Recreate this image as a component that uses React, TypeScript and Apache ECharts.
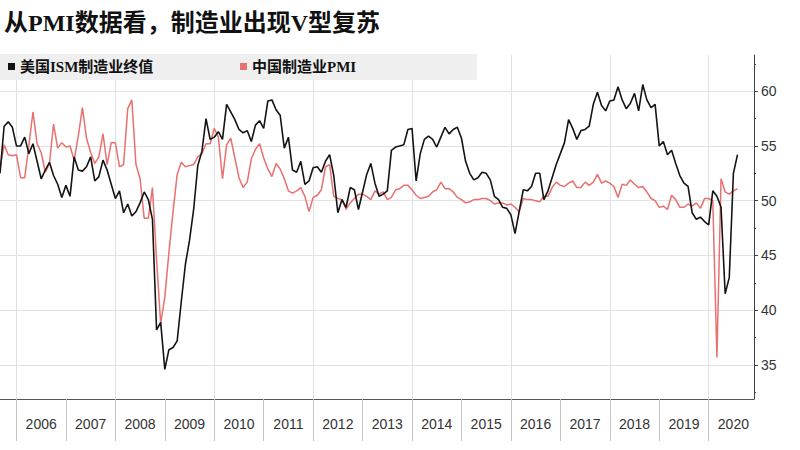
import React, { useEffect, useRef } from "react";
import * as echarts from "echarts";

const TITLE = "从PMI数据看，制造业出现V型复苏";
const SERIES_US = "美国ISM制造业终值";
const SERIES_CN = "中国制造业PMI";

// Monthly categories: Aug 2005 .. Nov 2020
const START_YEAR = 2005;
const START_MONTH = 8;
const MONTH_COUNT = 184;
const months: string[] = [];
for (let k = 0; k < MONTH_COUNT; k++) {
  const m = START_MONTH - 1 + k;
  const y = START_YEAR + Math.floor(m / 12);
  const mm = (m % 12) + 1;
  months.push(`${y}-${String(mm).padStart(2, "0")}`);
}

// US ISM manufacturing PMI (Aug 2005 .. Dec 2012)
const usIsmA = [
  52.5, 56.8, 57.2, 56.7, 55.0,
  55.0, 55.8, 54.3, 55.2, 53.6, 52.0, 52.8, 53.5, 52.3, 51.5, 50.3, 51.4,
  50.4, 54.0, 52.8, 52.7, 53.1, 54.0, 51.8, 52.2, 53.7, 52.8, 51.5, 50.2,
  50.9, 48.9, 49.7, 48.6, 49.0, 49.8, 50.8, 50.1, 48.3, 38.2, 38.9, 34.6,
  36.4, 36.6, 37.2, 40.8, 44.2, 46.4, 49.2, 53.2, 54.5, 57.5, 55.6, 55.8,
  56.3, 55.6, 58.8, 58.1, 57.4, 56.5, 56.2, 56.4, 55.4, 56.9, 57.3, 56.6,
  59.1, 59.2, 58.3, 57.8, 54.8, 55.8, 52.8, 52.6, 53.6, 51.5, 51.8, 53.0,
  53.1, 52.6, 53.6, 54.2, 52.3, 48.9, 50.1, 49.4, 51.2, 51.0, 49.2, 50.8,
];
// US ISM manufacturing PMI (Jan 2013 .. Jul 2020)
const usIsmB = [
  52.4, 53.4, 51.6, 50.4, 50.6, 50.9, 54.6, 54.9, 55.0, 55.1, 56.5, 56.6,
  51.8, 54.3, 55.6, 55.9, 55.6, 54.9, 55.8, 56.7, 56.1, 56.5, 56.7, 55.7,
  53.6, 52.5, 51.9, 52.1, 52.6, 52.5, 51.9, 50.4, 50.1, 49.4, 49.3, 48.7,
  47.0, 49.0, 51.0, 50.9, 51.3, 52.5, 52.5, 50.1, 50.9, 52.1, 53.3, 54.3,
  55.3, 57.4, 56.6, 55.6, 56.4, 56.5, 56.8, 58.8, 59.9, 58.7, 58.2, 59.1,
  59.2, 60.4, 59.2, 58.4, 58.9, 59.8, 58.2, 60.6, 59.2, 58.5, 58.8, 55.0,
  55.4, 54.2, 54.6, 53.4, 52.3, 51.6, 51.3, 48.9, 48.3, 48.5, 48.1, 47.8,
  50.9, 50.4, 49.4, 41.5, 43.0, 52.5, 54.2,
];

// China official manufacturing PMI (Aug 2005 .. Dec 2012)
const cnPmiA = [
  52.9, 55.1, 54.2, 54.1, 54.2,
  52.1, 52.1, 55.0, 58.1, 55.2, 54.4, 52.6, 53.4, 57.0, 54.8, 55.3, 54.9,
  55.0, 53.7, 55.9, 58.5, 55.7, 54.4, 53.4, 54.0, 56.1, 53.3, 55.3, 55.3,
  53.1, 53.3, 58.4, 59.2, 53.3, 52.0, 48.4, 48.4, 51.2, 44.6, 38.8, 41.2,
  45.3, 49.0, 52.4, 53.5, 53.1, 53.2, 53.3, 54.0, 54.3, 55.2, 55.2, 56.6,
  55.8, 52.0, 55.1, 55.7, 53.9, 52.1, 51.2, 51.7, 53.8, 54.7, 55.2, 53.9,
  52.9, 52.2, 53.4, 52.9, 52.0, 50.9, 50.7, 50.9, 51.2, 50.4, 49.0, 50.3,
  50.5, 51.0, 53.1, 53.3, 50.4, 50.2, 50.1, 49.2, 49.8, 50.2, 50.6, 50.6,
];
// China official manufacturing PMI (Jan 2013 .. Jul 2020)
const cnPmiB = [
  50.4, 50.1, 50.9, 50.6, 50.8, 50.1, 50.3, 51.0, 51.1, 51.4, 51.4, 51.0,
  50.5, 50.2, 50.3, 50.4, 50.8, 51.0, 51.7, 51.1, 51.1, 50.8, 50.3, 50.1,
  49.8, 49.9, 50.1, 50.1, 50.2, 50.2, 50.0, 49.7, 49.8, 49.8, 49.6, 49.7,
  49.4, 49.0, 50.2, 50.1, 50.1, 50.0, 49.9, 50.4, 50.4, 51.2, 51.7, 51.4,
  51.3, 51.6, 51.8, 51.2, 51.2, 51.7, 51.4, 51.7, 52.4, 51.6, 51.8, 51.6,
  51.3, 50.3, 51.5, 51.4, 51.9, 51.5, 51.2, 51.3, 50.8, 50.2, 50.0, 49.4,
  49.5, 49.2, 50.5, 50.1, 49.4, 49.4, 49.7, 49.5, 49.8, 49.3, 50.2, 50.2,
  50.0, 35.7, 52.0, 50.8, 50.6, 50.9, 51.1,
];

const usIsm = usIsmA.concat(usIsmB);
const cnPmi = cnPmiA.concat(cnPmiB);

const yTicks = [35, 40, 45, 50, 55, 60];
const yMinorTicks = [32.5, 37.5, 42.5, 47.5, 52.5, 57.5, 62.5];
const Y_MIN = 31.9;
const Y_MAX = 63.3;

const SERIF = "'Liberation Serif', 'Noto Sans CJK SC', serif";
const SANS = "'Liberation Sans', 'Noto Sans', sans-serif";
const US_COLOR = "#141414";
const CN_COLOR = "#e8706f";

const isMonth = (i: number, mm: string) => !!months[i] && months[i].slice(5) === mm;

export default function App() {
  const ref = useRef<HTMLDivElement>(null);
  useEffect(() => {
    if (!ref.current) return;
    const chart = echarts.init(ref.current, undefined, { renderer: "svg" });
    const legendText = {
      fontSize: 15,
      fontWeight: "bold" as const,
      color: "#111",
      fontFamily: SERIF,
    };
    chart.setOption({
      animation: false,
      backgroundColor: "#ffffff",
      title: {
        text: TITLE,
        left: 4,
        top: 11,
        padding: 0,
        textStyle: { fontSize: 24, fontWeight: "bold", color: "#111", fontFamily: SERIF },
      },
      graphic: [
        {
          type: "rect",
          shape: { x: 0, y: 54, width: 477, height: 26 },
          style: { fill: "#efefef" },
          z: 5,
          silent: true,
        },
      ],
      legend: [
        {
          data: [SERIES_US],
          left: 8,
          top: 59,
          padding: 0,
          icon: "rect",
          itemWidth: 7,
          itemHeight: 7,
          itemGap: 0,
          selectedMode: false,
          textStyle: legendText,
          z: 6,
        },
        {
          data: [SERIES_CN],
          left: 240,
          top: 59,
          padding: 0,
          icon: "rect",
          itemWidth: 7,
          itemHeight: 7,
          itemGap: 0,
          selectedMode: false,
          textStyle: legendText,
          z: 6,
        },
      ],
      grid: { left: 0, right: 46, top: 55, bottom: 51, containLabel: false },
      xAxis: {
        type: "category",
        data: months,
        boundaryGap: false,
        axisLine: { show: true, lineStyle: { color: "#555", width: 1 } },
        axisTick: {
          show: true,
          interval: (i: number) => isMonth(i, "12"),
          length: 42,
          lineStyle: { color: "#c4c4c4", width: 1 },
        },
        axisLabel: {
          interval: (i: number) => isMonth(i, "06"),
          formatter: (v: string) => (v.slice(5) === "06" ? v.slice(0, 4) : ""),
          showMinLabel: true,
          showMaxLabel: true,
          hideOverlap: false,
          margin: 18,
          fontSize: 14,
          color: "#333",
          fontFamily: SANS,
        },
        splitLine: {
          show: true,
          interval: (i: number) => isMonth(i, "12") && parseInt(months[i].slice(0, 4), 10) % 2 === 1,
          lineStyle: { color: "#e2e2e2", width: 1 },
        },
      },
      yAxis: [
        {
          type: "value",
          position: "right",
          min: Y_MIN,
          max: Y_MAX,
          axisLine: { show: true, lineStyle: { color: "#444", width: 1 } },
          axisTick: {
            show: true,
            customValues: yTicks,
            length: 4,
            lineStyle: { color: "#444" },
          },
          axisLabel: {
            customValues: yTicks,
            margin: 7,
            fontSize: 14,
            color: "#333",
            fontFamily: SANS,
          },
          splitLine: { show: true, lineStyle: { color: "#e2e2e2", width: 1 } },
        },
        {
          type: "value",
          position: "right",
          min: Y_MIN,
          max: Y_MAX,
          axisLine: { show: false },
          axisTick: {
            show: true,
            customValues: yMinorTicks,
            length: 2,
            lineStyle: { color: "#444" },
          },
          axisLabel: { show: false },
          splitLine: { show: false },
        },
      ],
      series: [
        {
          name: SERIES_CN,
          type: "line",
          data: cnPmi,
          symbol: "none",
          lineStyle: { color: CN_COLOR, width: 1.5 },
          itemStyle: { color: CN_COLOR },
          z: 2,
        },
        {
          name: SERIES_US,
          type: "line",
          data: usIsm,
          symbol: "none",
          lineStyle: { color: US_COLOR, width: 1.6 },
          itemStyle: { color: US_COLOR },
          z: 3,
        },
      ],
    });
    return () => chart.dispose();
  }, []);
  return (
    <div
      ref={ref}
      style={{ position: "fixed", left: 0, top: 0, width: 800, height: 450, background: "#fff" }}
    />
  );
}
